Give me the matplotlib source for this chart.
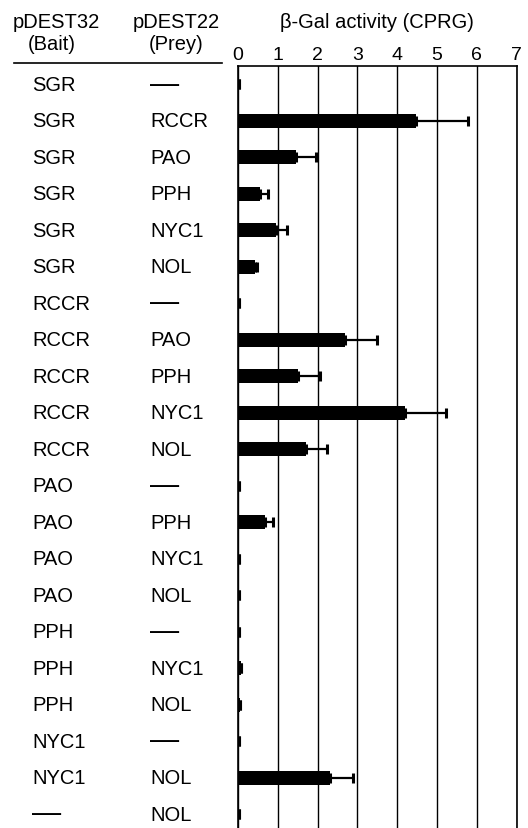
import matplotlib.pyplot as plt
import matplotlib.transforms as mtransforms
import matplotlib

matplotlib.rcParams['font.family'] = ['Liberation Sans', 'DejaVu Sans']

# bait / prey pairs and beta-gal activity (CPRG), mean + upper error
bait = ['SGR', 'SGR', 'SGR', 'SGR', 'SGR', 'SGR',
        'RCCR', 'RCCR', 'RCCR', 'RCCR', 'RCCR',
        'PAO', 'PAO', 'PAO', 'PAO',
        'PPH', 'PPH', 'PPH',
        'NYC1', 'NYC1', '—']
prey = ['—', 'RCCR', 'PAO', 'PPH', 'NYC1', 'NOL',
        '—', 'PAO', 'PPH', 'NYC1', 'NOL',
        '—', 'PPH', 'NYC1', 'NOL',
        '—', 'NYC1', 'NOL',
        '—', 'NOL', 'NOL']
activity = [0.03, 4.48, 1.45, 0.56, 0.96, 0.42,
            0.03, 2.68, 1.50, 4.19, 1.70,
            0.03, 0.69, 0.03, 0.03,
            0.03, 0.07, 0.05,
            0.03, 2.30, 0.03]
err = [0, 1.30, 0.52, 0.19, 0.28, 0.06,
       0, 0.81, 0.56, 1.03, 0.54,
       0, 0.19, 0, 0,
       0, 0, 0,
       0, 0.59, 0]
xticks = [0, 1, 2, 3, 4, 5, 6, 7]

fig = plt.figure(figsize=(5.28, 8.29), dpi=100)
ax = fig.add_axes([0.4508, 0.0, 0.5278, 0.9192])

rows = list(range(len(bait)))
ax.barh(rows, activity, height=0.38, color='black', zorder=3)
ax.errorbar(activity, rows, xerr=[[0] * len(err), err], fmt='none',
            ecolor='black', elinewidth=1.6, capsize=3.8, capthick=2.2, zorder=3)

ax.set_xlim(0, 7)
ax.set_ylim(20.38, -0.5)
ax.set_xticks(xticks)
ax.xaxis.tick_top()
ax.tick_params(axis='x', length=0, pad=2.5, labelsize=14)
ax.set_yticks([])
ax.grid(axis='x', color='black', linewidth=1, zorder=1)
ax.spines['bottom'].set_visible(False)
for s in ['top', 'left', 'right']:
    ax.spines[s].set_linewidth(1.2)

# left table: x in figure coords, y from the data rows
trans = mtransforms.blended_transform_factory(fig.transFigure, ax.transData)
for i in rows:
    for label, x in [(bait[i], 32 / 528), (prey[i], 150 / 528)]:
        if label == '—':
            fig.text(x, i - 0.02, label, transform=trans, fontsize=21,
                     va='center', ha='left')
        else:
            fig.text(x, i, label, transform=trans, fontsize=14.5,
                     va='center', ha='left')

fig.text(56 / 528, 1 - 23 / 829, 'pDEST32', fontsize=14.5, ha='center', va='center')
fig.text(52 / 528, 1 - 45 / 829, '(Bait)', fontsize=14.5, ha='center', va='center')
fig.text(176 / 528, 1 - 23 / 829, 'pDEST22', fontsize=14.5, ha='center', va='center')
fig.text(176 / 528, 1 - 45 / 829, '(Prey)', fontsize=14.5, ha='center', va='center')
fig.text(377 / 528, 1 - 23 / 829, 'β-Gal activity (CPRG)', fontsize=14.5,
         ha='center', va='center')
fig.add_artist(plt.Line2D([14 / 528, 222 / 528], [1 - 64 / 829, 1 - 64 / 829],
                          color='black', linewidth=1.2))

fig.savefig('out.png', dpi=100)
